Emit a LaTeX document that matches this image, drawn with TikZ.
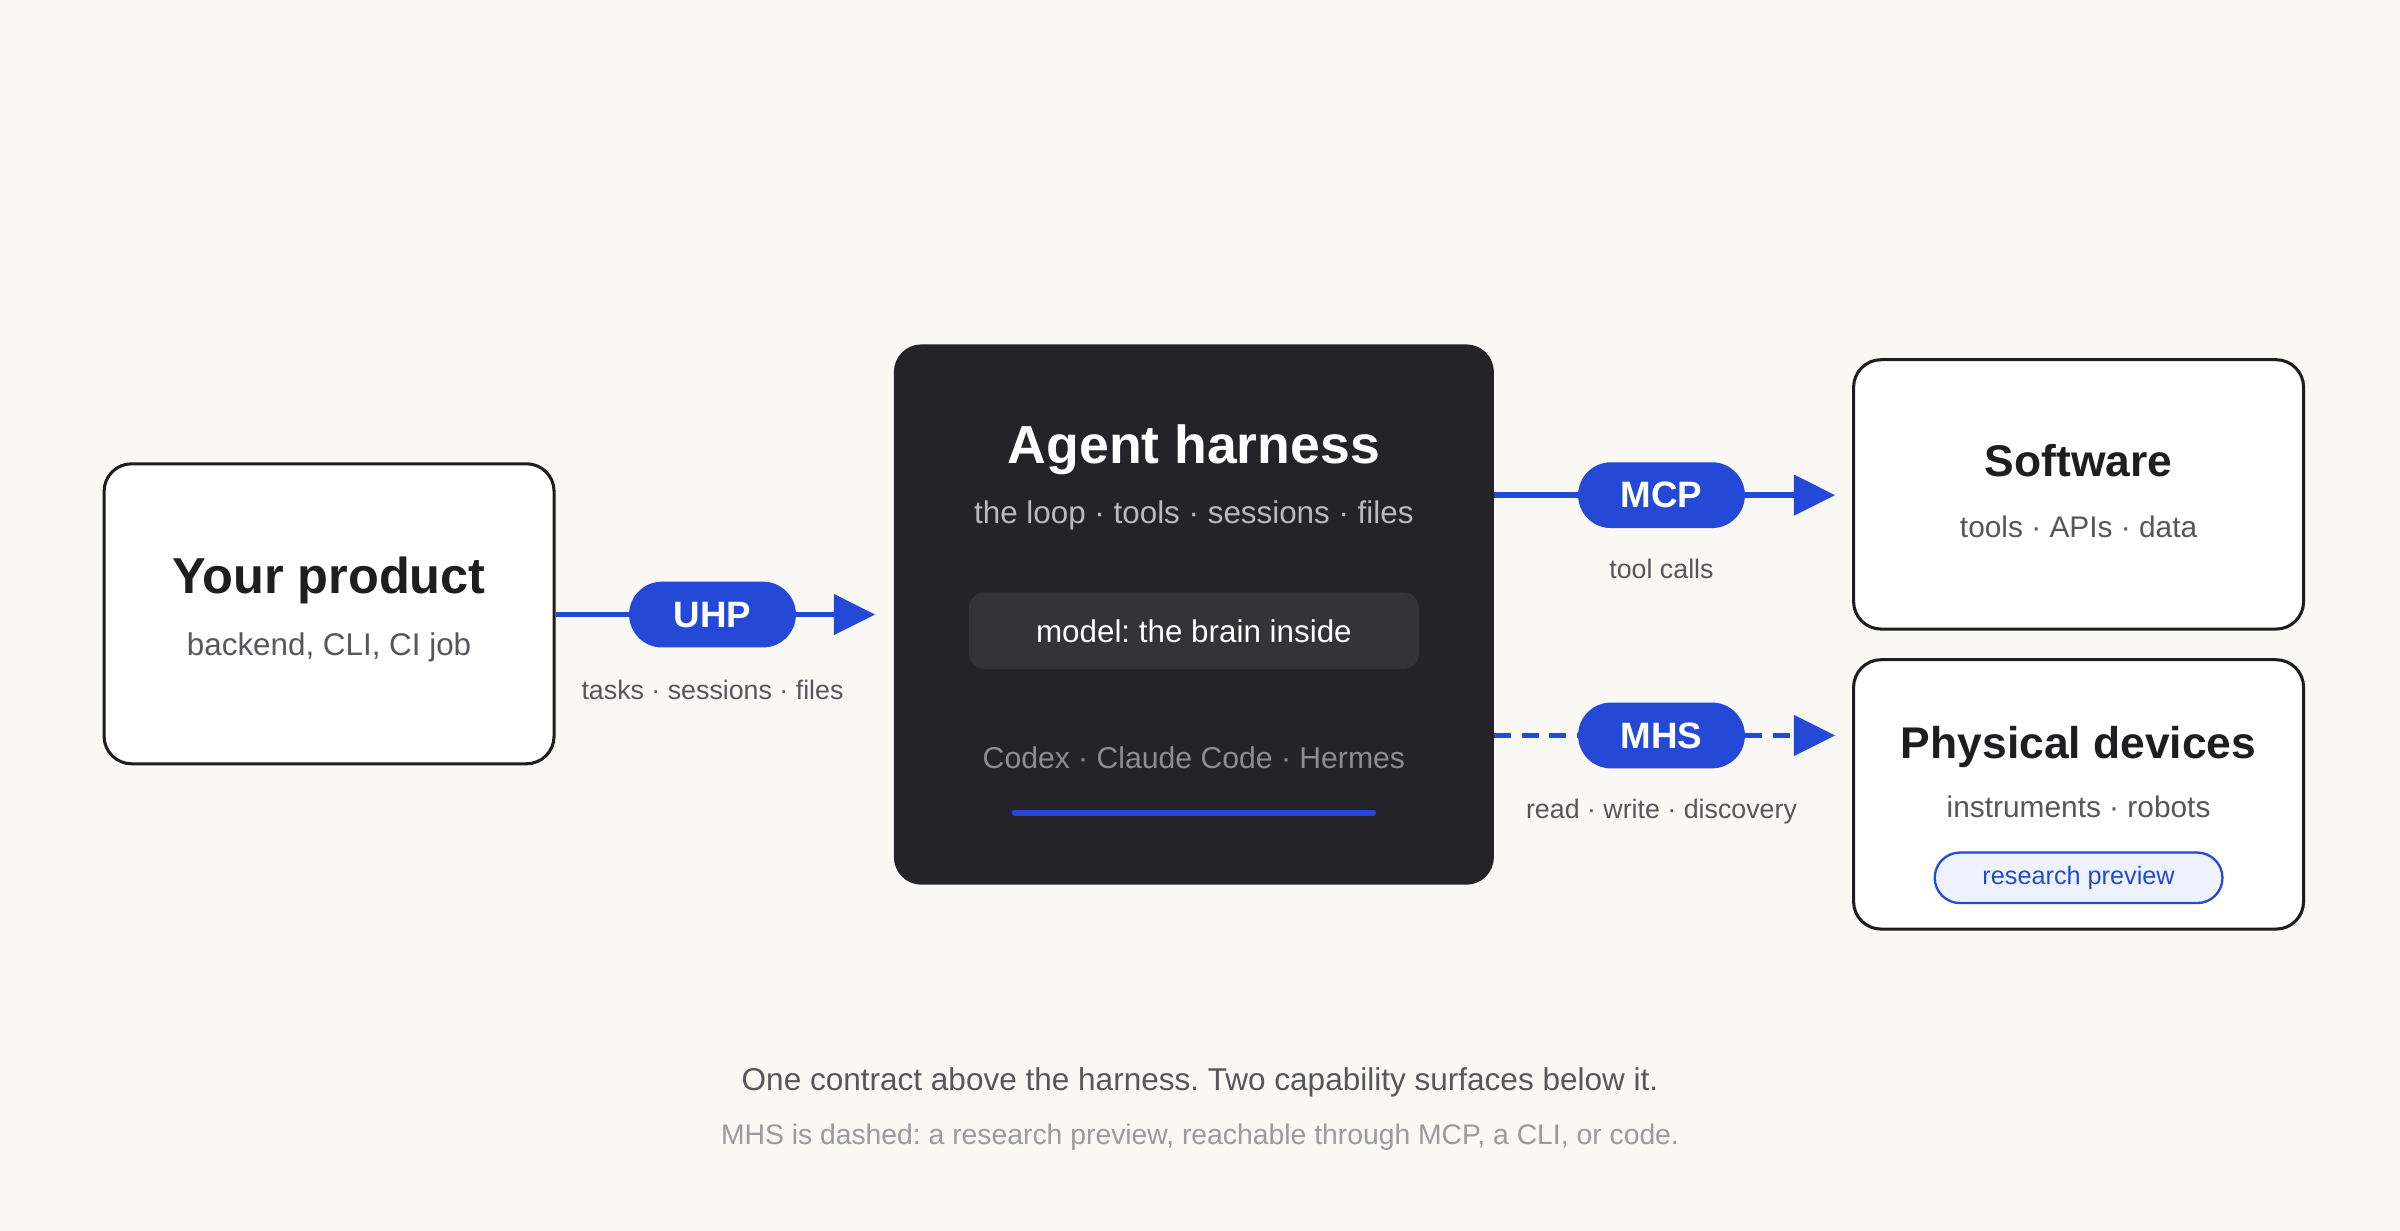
\documentclass[tikz,border=0pt]{standalone}
\usepackage{fontspec}
\setmainfont{Liberation Sans}
\usetikzlibrary{arrows.meta}
\definecolor{bg}{HTML}{F9F8F4}
\definecolor{ink}{HTML}{1E1E20}
\definecolor{blu}{HTML}{2449D6}
\definecolor{dark}{HTML}{242428}
\definecolor{darkin}{HTML}{333338}
\definecolor{subg}{HTML}{56565C}
\definecolor{lightg}{HTML}{B9B9BE}
\definecolor{midg}{HTML}{8C8C92}
\definecolor{capg}{HTML}{9A9AA0}
\definecolor{pillbg}{HTML}{EEF2FD}
\newcommand\fsz[1]{\fontsize{#1}{#1}\selectfont}
\frenchspacing
\begin{document}
\begin{tikzpicture}[x=1pt,y=-1pt,
  card/.style={draw=ink, line width=2pt, fill=white, rounded corners=18pt, minimum width=294pt, inner sep=0pt},
  pill/.style={fill=blu, rounded corners=21.5pt, minimum width=109pt, minimum height=43pt, text=white, font=\fsz{24}\bfseries, inner sep=0pt},
  flow/.style={draw=blu, line width=3.5pt},
  flowdash/.style={draw=blu, line width=3.5pt, dash pattern=on 11pt off 7pt},
  arrowend/.style={-{Triangle[length=27pt,width=26pt]}},
  txt/.style={anchor=base, inner sep=0pt},
  ttl/.style={txt, text=ink, font=\bfseries},
  sub/.style={txt, text=subg, font=\fsz{20}},
  lbl/.style={txt, text=subg, font=\fsz{17.5}}
]
\fill[bg] (0,0) rectangle (1568,804);
\useasboundingbox (0,0) rectangle (1568,804);

% left card
\node[card, minimum height=196pt] (prod) at (215,401) {};
\node[ttl, font=\fsz{33}\bfseries] (prodt) at (215,388) {Your product};
\node[sub, font=\fsz{20.5}] (prods) at (215,428.5) {backend, CLI, CI job};

% harness
\node[fill=dark, rounded corners=18pt, minimum width=392pt, minimum height=353pt, inner sep=0pt] (harness) at (780,401.5) {};
\node[txt, text=white, font=\fsz{35}\bfseries] (harnt) at (780,302.5) {Agent harness};
\node[txt, text=lightg, font=\fsz{20.5}] (harns) at (780,342) {the loop · tools · sessions · files};
\node[fill=darkin, rounded corners=10pt, minimum width=294pt, minimum height=50pt, inner sep=0pt] (model) at (780,412) {};
\node[txt, text=white, font=\fsz{20.5}] (modelt) at (780,420) {model: the brain inside};
\node[txt, text=midg, font=\fsz{19.7}] (impls) at (780,502) {Codex · Claude Code · Hermes};
\coordinate (barl) at (663,531);
\coordinate (barr) at (897,531);
\draw[blu, line width=4pt, line cap=round] (barl) -- (barr);

% right cards
\node[card, minimum height=176pt] (sw) at (1358,323) {};
\node[ttl, font=\fsz{29}\bfseries] (swt) at (1358,311.5) {Software};
\node[sub, font=\fsz{19.5}] (sws) at (1358,351) {tools · APIs · data};

\node[card, minimum height=176pt] (phys) at (1358,519) {};
\node[ttl, font=\fsz{29}\bfseries] (physt) at (1358,495.5) {Physical devices};
\node[sub, font=\fsz{19.5}] (physs) at (1358,534) {instruments · robots};
\node[draw=blu, line width=1.5pt, fill=pillbg, rounded corners=16.5pt, minimum width=188pt, minimum height=33pt, inner sep=0pt, text=blu, font=\fsz{16.5}] (rp) at (1358,573.5) {research preview};

% pills
\node[pill] (uhp) at (465.5,401.5) {UHP};
\node[pill] (mcp) at (1085.5,323.5) {MCP};
\node[pill] (mhs) at (1085.5,480.5) {MHS};

% connectors
\draw[flow] (prod.east |- uhp.west) -- (uhp.west);
\draw[flow, arrowend, shorten >=12pt] (uhp.east) -- (harness.west |- uhp.east);
\draw[flow] (harness.east |- mcp.west) -- (mcp.west);
\draw[flow, arrowend, shorten >=11pt] (mcp.east) -- (sw.west |- mcp.east);
\draw[flowdash] (harness.east |- mhs.west) -- (mhs.west);
\draw[flowdash, arrowend, shorten >=11pt] (mhs.east) -- (phys.west |- mhs.east);

% labels
\node[lbl] (uhpl) at (465.5,457) {tasks · sessions · files};
\node[lbl] (mcpl) at (1085.5,378) {tool calls};
\node[lbl] (mhsl) at (1085.5,535) {read · write · discovery};

% captions
\node[txt, text=subg, font=\fsz{20.6}] (cap1) at (784,712.5) {One contract above the harness. Two capability surfaces below it.};
\node[txt, text=capg, font=\fsz{18.5}] (cap2) at (784,747.5) {MHS is dashed: a research preview, reachable through MCP, a CLI, or code.};
\end{tikzpicture}
\end{document}
